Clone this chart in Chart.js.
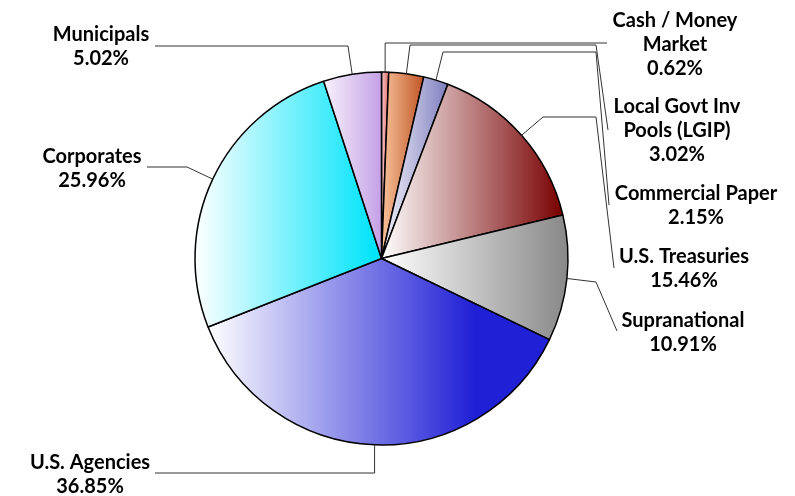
<!DOCTYPE html>
<html>
<head>
<meta charset="utf-8">
<script src="https://cdn.jsdelivr.net/npm/chart.js@4.4.0/dist/chart.umd.min.js"></script>
<style>
  html, body { margin: 0; padding: 0; background: #fff; }
</style>
</head>
<body>
<canvas id="allocationPie" width="795" height="496"></canvas>
<script>
const categories = ['Cash / Money Market', 'Local Govt Inv Pools (LGIP)', 'Commercial Paper', 'U.S. Treasuries',
  'Supranational', 'U.S. Agencies', 'Corporates', 'Municipals'];
const percents = [0.62, 3.02, 2.15, 15.46, 10.91, 36.85, 25.96, 5.02];
const labelLines = [['Cash / Money', 'Market'], ['Local Govt Inv', 'Pools (LGIP)'], ['Commercial Paper'],
  ['U.S. Treasuries'], ['Supranational'], ['U.S. Agencies'], ['Corporates'], ['Municipals']];

// gradient colours, light (left) to dark (right) per slice; fullAt = where the dark colour is reached
const fromColors = ['#f7c6c6', '#f9c39b', '#f4f4fa', '#ffffff', '#ffffff', '#ffffff', '#ffffff', '#f8f2fc'];
const toColors = ['#e06c6c', '#bf5526', '#7f7fc0', '#780000', '#888888', '#2020d6', '#00e4fa', '#c4a0e6'];
const fullAt = [1, 1, 1, 1, 1, 0.78, 0.97, 1];

// label centre + leader elbows (null x = straight up/down from slice)
const callouts = [
  { x: 675, y: 21, path: [[null, 43], [607, 43]] },
  { x: 677, y: 107, path: [[410, 45], [596, 45], [608, 130]] },
  { x: 696, y: 194, path: [[443, 52], [596, 52], [609, 205]] },
  { x: 684, y: 257, path: [[543, 117], [596, 117], [614, 268]] },
  { x: 683, y: 321, path: [[596, 282], [617, 331]] },
  { x: 90, y: 463, path: [[null, 473], [155, 473]] },
  { x: 92, y: 157, path: [[187, 167], [147, 167]] },
  { x: 101, y: 35, path: [[348, 46], [155, 46]] }
];

const sliceGradients = {
  id: 'sliceGradients',
  beforeDatasetsDraw(chart) {
    const ctx = chart.ctx;
    chart.getDatasetMeta(0).data.forEach((arc, i) => {
      const p = arc.getProps(['x', 'y', 'startAngle', 'endAngle', 'outerRadius'], true);
      let minX = p.x, maxX = p.x;
      const take = a => {
        const x = p.x + Math.cos(a) * p.outerRadius;
        minX = Math.min(minX, x);
        maxX = Math.max(maxX, x);
      };
      take(p.startAngle);
      take(p.endAngle);
      for (let k = -4; k <= 4; k++) {
        if (k * Math.PI > p.startAngle && k * Math.PI < p.endAngle) take(k * Math.PI);
      }
      const g = ctx.createLinearGradient(minX, 0, maxX, 0);
      g.addColorStop(0, fromColors[i]);
      g.addColorStop(fullAt[i], toColors[i]);
      g.addColorStop(1, toColors[i]);
      arc.options.backgroundColor = g;
    });
  }
};

const calloutLabels = {
  id: 'calloutLabels',
  afterDatasetsDraw(chart) {
    const ctx = chart.ctx;
    ctx.save();
    chart.getDatasetMeta(0).data.forEach((arc, i) => {
      const p = arc.getProps(['x', 'y', 'startAngle', 'endAngle', 'outerRadius'], true);
      const mid = (p.startAngle + p.endAngle) / 2;
      const ax = p.x + Math.cos(mid) * p.outerRadius;
      const ay = p.y + Math.sin(mid) * p.outerRadius;
      const c = callouts[i];
      ctx.beginPath();
      ctx.moveTo(ax, ay);
      c.path.forEach(pt => ctx.lineTo(pt[0] === null ? ax : pt[0], pt[1]));
      ctx.strokeStyle = '#333';
      ctx.lineWidth = 1;
      ctx.stroke();

      const lines = labelLines[i].concat([percents[i].toFixed(2) + '%']);
      ctx.font = 'bold 20px Lato';
      ctx.fillStyle = '#000';
      ctx.textAlign = 'center';
      ctx.textBaseline = 'middle';
      lines.forEach((t, j) => ctx.fillText(t, c.x, c.y + j * 24));
    });
    ctx.restore();
  }
};

new Chart(document.getElementById('allocationPie'), {
  type: 'pie',
  data: {
    labels: categories,
    datasets: [{
      data: percents,
      backgroundColor: toColors,
      borderColor: '#000',
      borderWidth: 1.5,
      hoverOffset: 0
    }]
  },
  options: {
    responsive: false,
    animation: false,
    layout: { padding: { left: 194.25, right: 226.25, top: 71.25, bottom: 50.25 } },
    plugins: {
      legend: { display: false },
      tooltip: { enabled: false }
    }
  },
  plugins: [sliceGradients, calloutLabels]
});
</script>
</body>
</html>
